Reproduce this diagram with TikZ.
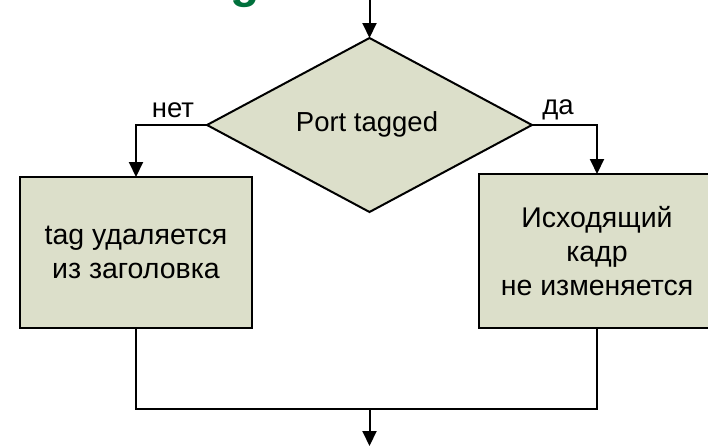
\documentclass[tikz,border=0pt]{standalone}
\usepackage{fontspec}
\setmainfont{Liberation Sans}
\usetikzlibrary{shapes.geometric,arrows.meta}
\definecolor{boxfill}{RGB}{220,223,202}
\definecolor{titlegreen}{RGB}{0,112,60}
\tikzset{
  flow/.style={draw=black, line width=2pt, fill=boxfill, inner sep=0pt, outer sep=0pt},
  txt/.style={font=\fontsize{27.5}{34}\selectfont, align=center},
  boxtxt/.style={font=\fontsize{28.5}{34}\selectfont, align=center},
  arr/.style={line width=2pt, -{Triangle[length=15pt,width=14pt]}},
  link/.style={line width=2pt},
}
\begin{document}
\begin{tikzpicture}[x=1pt,y=-1pt]
  \useasboundingbox (0,0) rectangle (708,447);
  \clip (0,0) rectangle (708,447);
  \fill[white] (0,0) rectangle (708,447);

  % descender of the slide title, cut by the top edge
  \node[font=\fontsize{48}{48}\selectfont\bfseries, text=titlegreen, anchor=base, inner sep=0pt]
    (title) at (245.5,-2) {g};

  % decision
  \node[flow, shape=diamond, minimum width=325pt, minimum height=174pt, aspect=1.87]
    (dia) at (369.5,125) {};
  \node[txt] (diatext) at (367,124) {Port tagged};

  % actions
  \node[flow, minimum width=232pt, minimum height=151pt, boxtxt] (lbox) at (136,252.5)
    {tag удаляется\\из заголовка};
  \node[flow, minimum width=236pt, minimum height=154pt, boxtxt] (rbox) at (597,251)
    {Исходящий\\кадр\\не изменяется};

  % branch labels
  \node[txt] (no) at (173,110) {нет};
  \node[txt] (yes) at (558,110) {да};

  % connectors
  \coordinate (in) at (369.5,0);
  \coordinate (join) at (369.5,409);
  \coordinate (out) at (369.5,446);
  \draw[arr] (in) -- (dia.north);
  \draw[arr] (dia.west) -| (lbox.north);
  \draw[arr] (dia.east) -| (rbox.north);
  \draw[link] (lbox.south) -- (lbox.south |- join) -- (rbox.south |- join) -- (rbox.south);
  \draw[arr] (join) -- (out);
\end{tikzpicture}
\end{document}
